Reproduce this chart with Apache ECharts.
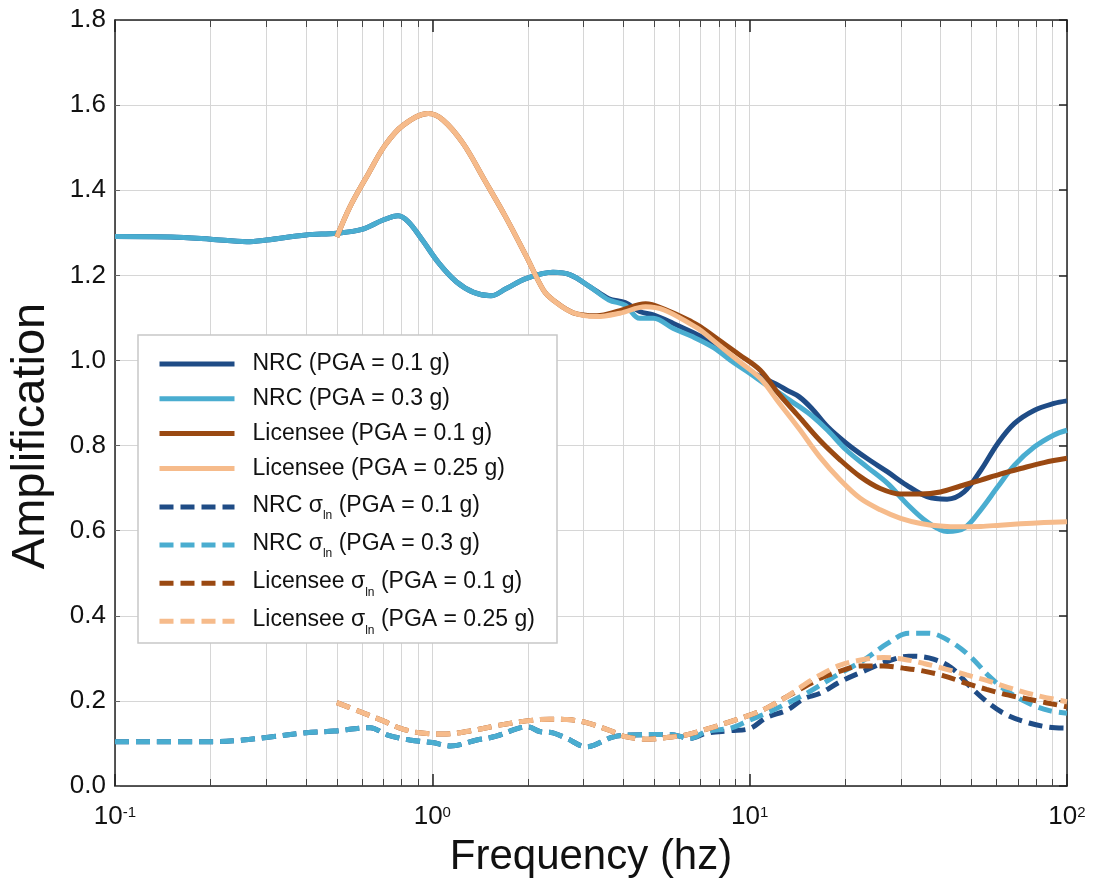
<!DOCTYPE html>
<html>
<head>
<meta charset="utf-8">
<script src="https://cdn.jsdelivr.net/npm/echarts@6/dist/echarts.min.js"></script>
<style>
  html, body { margin: 0; padding: 0; background: #fff; }
  #chart { width: 1101px; height: 886px; }
</style>
</head>
<body>
<div id="chart"></div>
<script>
// NRC median amplification (both PGA levels share one frequency grid)
const nrcFreq = [0.1, 0.15, 0.2, 0.26, 0.3, 0.4, 0.5, 0.6, 0.7, 0.78, 0.84, 0.93, 1.05, 1.19, 1.35, 1.53, 1.71, 1.98, 2.4, 2.72, 3.14, 3.6, 4.05, 4.5, 4.97, 5.75, 6.6, 7.7, 8.9, 10, 11.3, 12.3, 13.1, 14.3, 15.7, 17.6, 20.2, 23.4, 27.2, 31.2, 36.2, 41.9, 47.4, 53.5, 60.5, 68.3, 79, 91, 100]
const nrc01 = [1.291, 1.290, 1.285, 1.279, 1.283, 1.295, 1.299, 1.308, 1.330, 1.340, 1.326, 1.283, 1.228, 1.185, 1.160, 1.152, 1.169, 1.193, 1.207, 1.201, 1.173, 1.145, 1.136, 1.115, 1.107, 1.087, 1.066, 1.040, 1.001, 0.975, 0.955, 0.942, 0.930, 0.915, 0.887, 0.844, 0.805, 0.770, 0.738, 0.707, 0.680, 0.674, 0.691, 0.742, 0.805, 0.852, 0.883, 0.899, 0.905]
const nrc03 = [1.291, 1.290, 1.285, 1.279, 1.283, 1.295, 1.299, 1.308, 1.330, 1.340, 1.326, 1.283, 1.228, 1.185, 1.160, 1.152, 1.169, 1.193, 1.207, 1.201, 1.173, 1.142, 1.130, 1.099, 1.099, 1.075, 1.056, 1.030, 0.995, 0.970, 0.942, 0.925, 0.911, 0.892, 0.870, 0.836, 0.789, 0.750, 0.711, 0.664, 0.621, 0.598, 0.606, 0.649, 0.703, 0.754, 0.797, 0.825, 0.836]

// Licensee median amplification
const licFreq = [0.5, 0.55, 0.63, 0.71, 0.81, 0.97, 1.08, 1.25, 1.46, 1.7, 1.98, 2.24, 2.4, 2.78, 3.3, 3.9, 4.7, 5.4, 6.6, 7, 8, 9.3, 10.8, 12.3, 14.3, 16.6, 19.3, 22.3, 25.8, 29.9, 34.6, 39.9, 46.2, 53.5, 61.6, 71.4, 84.6, 100]
const lic01 = [1.290, 1.361, 1.440, 1.506, 1.553, 1.580, 1.565, 1.510, 1.424, 1.338, 1.244, 1.165, 1.142, 1.112, 1.105, 1.117, 1.133, 1.120, 1.090, 1.079, 1.048, 1.013, 0.977, 0.923, 0.868, 0.813, 0.766, 0.727, 0.699, 0.686, 0.686, 0.691, 0.705, 0.719, 0.733, 0.746, 0.760, 0.770]
const lic025 = [1.290, 1.361, 1.440, 1.506, 1.553, 1.580, 1.565, 1.510, 1.424, 1.338, 1.244, 1.165, 1.142, 1.112, 1.103, 1.111, 1.126, 1.118, 1.083, 1.071, 1.036, 0.997, 0.958, 0.903, 0.840, 0.774, 0.719, 0.676, 0.649, 0.629, 0.617, 0.611, 0.609, 0.610, 0.613, 0.616, 0.619, 0.621]

// sigma_ln
const nrcSigFreq = [0.1, 0.2, 0.253, 0.3, 0.4, 0.49, 0.637, 0.72, 0.85, 1, 1.14, 1.38, 1.59, 1.85, 2.0, 2.18, 2.4, 2.65, 3.06, 3.7, 4.2, 5.6, 6.5, 7.3, 8.7, 10, 11.3, 13.1, 14.8, 16.7, 19.3, 22.9, 27.2, 31.7, 36.7, 43, 49.6, 57, 65, 76, 88, 100]
const nrcSig01 = [0.104, 0.104, 0.108, 0.114, 0.125, 0.129, 0.137, 0.120, 0.108, 0.102, 0.094, 0.108, 0.117, 0.135, 0.139, 0.128, 0.125, 0.112, 0.092, 0.115, 0.120, 0.121, 0.112, 0.124, 0.130, 0.135, 0.161, 0.178, 0.205, 0.218, 0.245, 0.270, 0.293, 0.305, 0.301, 0.279, 0.233, 0.193, 0.166, 0.148, 0.138, 0.136]
const nrcSig03 = [0.104, 0.104, 0.108, 0.114, 0.125, 0.129, 0.137, 0.120, 0.108, 0.102, 0.094, 0.108, 0.117, 0.135, 0.139, 0.128, 0.125, 0.112, 0.092, 0.115, 0.120, 0.121, 0.112, 0.128, 0.136, 0.155, 0.171, 0.194, 0.214, 0.237, 0.265, 0.296, 0.335, 0.359, 0.359, 0.339, 0.304, 0.257, 0.222, 0.194, 0.177, 0.171]
const licSigFreq = [0.5, 0.59, 0.7, 0.79, 0.91, 1.08, 1.28, 1.63, 1.98, 2.35, 2.66, 3.06, 3.7, 4.05, 4.8, 5.47, 6.3, 7.5, 8.5, 9.8, 11.3, 13.1, 14.8, 16.7, 19.3, 22.4, 26.4, 30.5, 35.4, 40.9, 48.3, 55.8, 65, 77.9, 100]
const licSig01 = [0.196, 0.175, 0.153, 0.136, 0.125, 0.122, 0.128, 0.143, 0.153, 0.157, 0.156, 0.149, 0.128, 0.116, 0.110, 0.114, 0.120, 0.136, 0.149, 0.164, 0.183, 0.210, 0.232, 0.253, 0.270, 0.282, 0.282, 0.277, 0.270, 0.259, 0.241, 0.227, 0.214, 0.202, 0.186]
const licSig025 = [0.196, 0.175, 0.153, 0.136, 0.125, 0.122, 0.128, 0.143, 0.153, 0.157, 0.156, 0.149, 0.128, 0.116, 0.110, 0.114, 0.120, 0.136, 0.149, 0.164, 0.183, 0.210, 0.237, 0.261, 0.284, 0.296, 0.302, 0.298, 0.288, 0.276, 0.261, 0.248, 0.232, 0.215, 0.198]

const yTicks = [0, 0.2, 0.4, 0.6, 0.8, 1.0, 1.2, 1.4, 1.6, 1.8]

const NAVY = '#1f4c86'
const CYAN = '#4aadd0'
const BROWN = '#9a4912'
const PEACH = '#f6bb8b'
const FONT = '"Liberation Sans", Arial, sans-serif'
const DASH = [14, 7]

const zip = (xs, ys) => xs.map((x, i) => [x, ys[i]])

function line(name, xs, ys, color, dashed) {
  return {
    type: 'line', name,
    data: zip(xs, ys),
    smooth: 0.35, symbol: 'none',
    lineStyle: { width: 5, color, type: dashed ? DASH : 'solid', cap: 'butt' },
    itemStyle: { color },
    z: 2,
  }
}

const sigName = (who, pga) => `${who} σ_ln (PGA = ${pga} g)`

const series = [
  line('NRC (PGA = 0.1 g)', nrcFreq, nrc01, NAVY, false),
  line('NRC (PGA = 0.3 g)', nrcFreq, nrc03, CYAN, false),
  line('Licensee (PGA = 0.1 g)', licFreq, lic01, BROWN, false),
  line('Licensee (PGA = 0.25 g)', licFreq, lic025, PEACH, false),
  line(sigName('NRC', '0.1'), nrcSigFreq, nrcSig01, NAVY, true),
  line(sigName('NRC', '0.3'), nrcSigFreq, nrcSig03, CYAN, true),
  line(sigName('Licensee', '0.1'), licSigFreq, licSig01, BROWN, true),
  line(sigName('Licensee', '0.25'), licSigFreq, licSig025, PEACH, true),
]

const gridColor = '#d6d6d6'
const axisColor = '#222'

const logAxisBase = {
  type: 'log', logBase: 10, min: 0.1, max: 100,
  axisLine: { show: true, onZero: false, lineStyle: { color: axisColor, width: 1.5 } },
  axisTick: { show: true, inside: true, length: 12, lineStyle: { color: axisColor, width: 1.5 } },
  minorTick: { show: true, splitNumber: 9, length: 7, lineStyle: { color: '#444', width: 1 } },
}

// legend items: plain line sample, no symbol dot
const legendBase = {
  orient: 'vertical', left: 157, padding: 0, z: 4,
  itemWidth: 75, itemHeight: 2,
  lineStyle: { width: 5 },
  itemStyle: { opacity: 0 },
}

const option = {
  animation: false,
  backgroundColor: '#fff',
  textStyle: { fontFamily: FONT },
  grid: { left: 115, right: 34, top: 20, bottom: 100 },
  graphic: [{
    type: 'rect', z: 3,
    shape: { x: 138, y: 335, width: 419, height: 308 },
    style: { fill: '#fff', stroke: '#c8c8c8', lineWidth: 1.5 },
  }],
  legend: [
    {
      ...legendBase,
      data: series.slice(0, 4).map(s => s.name),
      top: 351, itemGap: 8.8,
      textStyle: { fontFamily: FONT, fontSize: 23, lineHeight: 26, color: '#111', padding: [0, 0, 0, 13] },
    },
    {
      ...legendBase,
      data: series.slice(4).map(s => s.name),
      top: 494, itemGap: 10.1,
      formatter: name => {
        const [pre, post] = name.split('σ_ln')
        return `{t|${pre}}{s|σ}{sub|ln}{t|${post}}`
      },
      textStyle: {
        fontFamily: FONT, fontSize: 23, color: '#111', padding: [0, 0, 0, 13],
        rich: {
          t: { fontFamily: FONT, fontSize: 23, lineHeight: 26, verticalAlign: 'top', color: '#111' },
          s: { fontFamily: FONT, fontSize: 23, lineHeight: 26, verticalAlign: 'top', color: '#111' },
          sub: { fontFamily: FONT, fontSize: 12, lineHeight: 13, padding: [16, 0, 0, 0], verticalAlign: 'top', color: '#111' },
        },
      },
    },
  ],
  xAxis: [
    {
      ...logAxisBase, position: 'bottom',
      splitLine: { show: true, lineStyle: { color: gridColor, width: 1 } },
      minorSplitLine: { show: true, lineStyle: { color: gridColor, width: 1 } },
      axisLabel: {
        margin: 18, showMinLabel: true, showMaxLabel: true,
        formatter: v => `{b|10}{s|${Math.round(Math.log10(v))}}`,
        rich: {
          b: { fontFamily: FONT, fontSize: 26, lineHeight: 28, color: '#111', verticalAlign: 'top' },
          s: { fontFamily: FONT, fontSize: 15, lineHeight: 16, color: '#111', verticalAlign: 'top', padding: [1, 0, 0, 0] },
        },
      },
      name: 'Frequency (hz)', nameLocation: 'middle', nameGap: 50,
      nameTextStyle: { fontFamily: FONT, fontSize: 42, color: '#111' },
    },
    {
      ...logAxisBase, position: 'top',
      splitLine: { show: false }, minorSplitLine: { show: false },
      axisLabel: { show: false },
    },
  ],
  yAxis: [
    {
      type: 'value', min: 0, max: 1.8, interval: 0.2, position: 'left',
      axisLine: { show: true, lineStyle: { color: axisColor, width: 1.5 } },
      axisTick: { show: true, inside: true, length: 5, lineStyle: { color: '#666' } },
      splitLine: { show: true, lineStyle: { color: gridColor, width: 1 } },
      axisLabel: {
        fontFamily: FONT, fontSize: 26, color: '#111', margin: 9,
        formatter: v => yTicks.includes(+v.toFixed(1)) ? v.toFixed(1) : '',
      },
      name: 'Amplification', nameLocation: 'middle', nameGap: 60,
      nameTextStyle: { fontFamily: FONT, fontSize: 47, color: '#111', padding: [0, 66, 0, 0] },
    },
    {
      type: 'value', min: 0, max: 1.8, interval: 0.2, position: 'right',
      axisLine: { show: true, lineStyle: { color: axisColor, width: 1.5 } },
      axisTick: { show: true, inside: true, length: 8, lineStyle: { color: axisColor, width: 1.5 } },
      splitLine: { show: false },
      axisLabel: { show: false },
    },
  ],
  series,
}

const chart = echarts.init(document.getElementById('chart'), null, { renderer: 'canvas' })
chart.setOption(option)
</script>
</body>
</html>
